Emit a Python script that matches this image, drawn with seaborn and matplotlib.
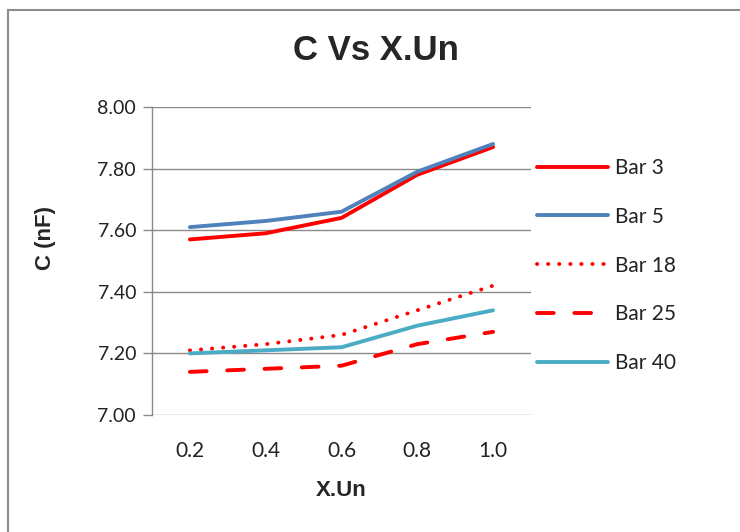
import pandas as pd
import matplotlib.pyplot as plt
import seaborn as sns
from matplotlib.patches import Rectangle

# data
x_un = [0.2, 0.4, 0.6, 0.8, 1.0]
bar3 = [7.57, 7.59, 7.64, 7.78, 7.87]
bar5 = [7.61, 7.63, 7.66, 7.79, 7.88]
bar18 = [7.21, 7.23, 7.26, 7.34, 7.42]
bar25 = [7.14, 7.15, 7.16, 7.23, 7.27]
bar40 = [7.20, 7.21, 7.22, 7.29, 7.34]
series_names = ['Bar 3', 'Bar 5', 'Bar 18', 'Bar 25', 'Bar 40']
y_ticks = [7.00, 7.20, 7.40, 7.60, 7.80, 8.00]

sns.set_style('white')
plt.rcParams['font.family'] = ['Lato', 'DejaVu Sans']

fig = plt.figure(figsize=(7.4, 5.32), dpi=100)
ax = fig.add_axes([152 / 740, 1 - 415 / 532, 379 / 740, 308 / 532])

# chart border
fig.patches.append(Rectangle((8 / 740, -0.05), 1.1, 1 - 10 / 532 + 0.05,
                             transform=fig.transFigure, fill=False,
                             edgecolor='#8c8c8c', linewidth=1.5))

styles = {
    'Bar 3': dict(color='#ff0000', ls='-'),
    'Bar 5': dict(color='#4f81bd', ls='-'),
    'Bar 18': dict(color='#ff0000', ls=(0, (0.05, 2.8))),
    'Bar 25': dict(color='#ff0000', ls=(0, (4.3, 5.3))),
    'Bar 40': dict(color='#4bacc6', ls='-'),
}
values = [bar3, bar5, bar18, bar25, bar40]

for name, vals in zip(series_names, values):
    df = pd.DataFrame({'X.Un': x_un, 'C': vals})
    st = styles[name]
    sns.lineplot(data=df, x='X.Un', y='C', ax=ax, color=st['color'],
                 linestyle=st['ls'], linewidth=2.8, label=name,
                 solid_capstyle='round', dash_capstyle='round')

ax.set_xlim(0.1, 1.1)
ax.set_ylim(7.0, 8.0)
ax.set_xticks(x_un)
ax.set_xticklabels([f'{v:.1f}' for v in x_un])
ax.set_yticks(y_ticks)
ax.set_yticklabels([f'{v:.2f}' for v in y_ticks])
ax.yaxis.grid(True, color='#8a8a8a', linewidth=1)
ax.set_axisbelow(True)
for s in ['top', 'right', 'bottom']:
    ax.spines[s].set_visible(False)
ax.spines['left'].set_color('#8a8a8a')
ax.spines['left'].set_linewidth(1)
ax.tick_params(axis='y', length=6.5, width=1, color='#8a8a8a', left=True,
               labelsize=14, pad=5, labelcolor='#222222')
ax.tick_params(axis='x', length=0, labelsize=15, pad=19, labelcolor='#222222')

bold_font = ['Liberation Sans', 'DejaVu Sans']
ax.set_xlabel('X.Un', fontsize=16, fontweight='bold', family=bold_font)
ax.set_ylabel('C (nF)', fontsize=16, fontweight='bold', family=bold_font)
ax.xaxis.set_label_coords(0.5, (415 - 490) / 308)
ax.xaxis.label.set_va('center')
ax.yaxis.set_label_coords((46 - 152) / 379, (415 - 238) / 308)
ax.yaxis.label.set_va('center')
fig.text(376 / 740, 1 - 50 / 532, 'C Vs X.Un', ha='center', va='center',
         fontsize=25, fontweight='bold', family=bold_font)

leg = ax.legend(loc='upper left', bbox_to_anchor=(537 / 740, 1 - 158 / 532),
                bbox_transform=fig.transFigure, frameon=False, fontsize=15,
                handlelength=3.4, handletextpad=0.35, labelspacing=1.38,
                borderaxespad=0, borderpad=0)
for t in leg.get_texts():
    t.set_color('#222222')

plt.savefig('out.png', dpi=100)
plt.close()
